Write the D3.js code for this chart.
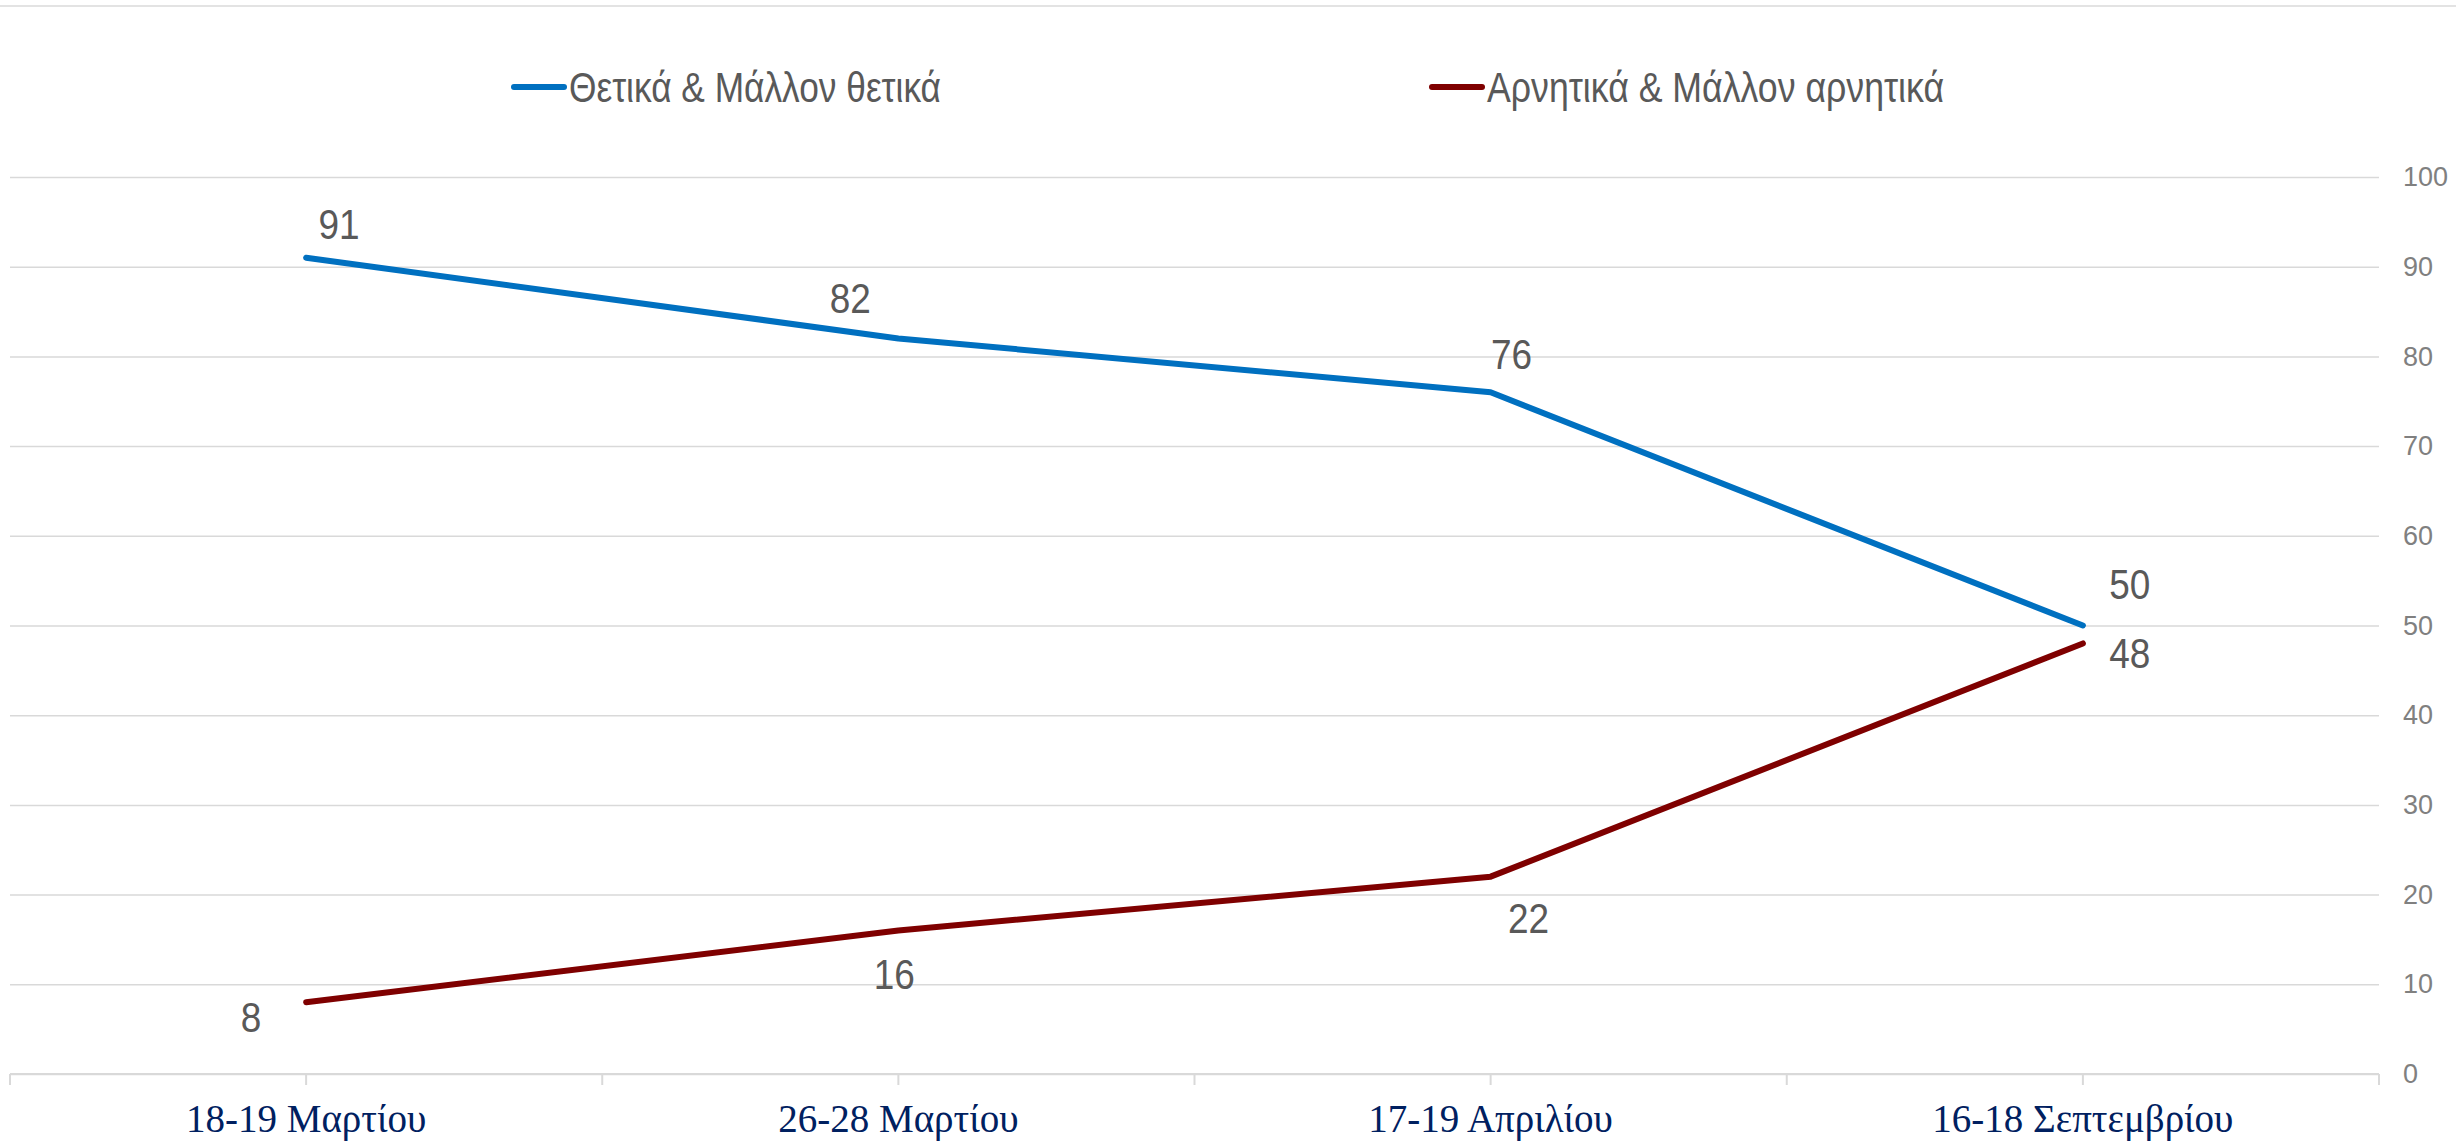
<!DOCTYPE html>
<html>
<head>
<meta charset="utf-8">
<script src="https://cdn.jsdelivr.net/npm/d3@7"></script>
<style>
    body { margin: 0; background: #fff; }
    svg { display: block; }
</style>
</head>
<body>
<div id="chart"></div>
<script>
// chart data
var categories = ["18-19 Μαρτίου", "26-28 Μαρτίου", "17-19 Απριλίου", "16-18 Σεπτεμβρίου"];
var seriesNames = ["Θετικά & Μάλλον θετικά", "Αρνητικά & Μάλλον αρνητικά"];
var positiveValues = [91, 82, 76, 50];
var negativeValues = [8, 16, 22, 48];
var yTicks = [0, 10, 20, 30, 40, 50, 60, 70, 80, 90, 100];

// hand-placed data labels (dx, dy from the point, like in the original)
var positiveLabelOffsets = [[33, -19], [-48, -25], [21, -23], [47, -27]];
var negativeLabelOffsets = [[-55, 30], [-4, 59], [38, 56], [47, 25]];

var width = 2456;
var height = 1141;
// plot box (don't use "top" as a global, it's window.top)
var plotLeft = 10, plotRight = 2379, plotTop = 177, plotBottom = 1074;
var colors = ["#0070C0", "#7F0000"];

var svg = d3.select("#chart")
    .append("svg")
        .attr("width", width)
        .attr("height", height);

// scales
var x = d3.scaleBand()
    .domain(categories)
    .range([plotLeft, plotRight]);
var y = d3.scaleLinear()
    .domain([0, 100])
    .range([plotBottom, plotTop]);

// thin frame line at the very top
svg.append("line")
    .attr("x1", 0).attr("x2", width)
    .attr("y1", 6).attr("y2", 6)
    .attr("stroke", "#e3e3e3")
    .attr("stroke-width", 2);

// gridlines + right axis labels
var yAxis = d3.axisRight(y)
    .tickValues(yTicks)
    .tickSize(-(plotRight - plotLeft))
    .tickPadding(24);
var gy = svg.append("g")
    .attr("transform", "translate(" + plotRight + ",0)")
    .call(yAxis);
gy.select(".domain").remove();
gy.selectAll(".tick line")
    .attr("stroke", "#d9d9d9")
    .attr("stroke-width", 1.5);
gy.selectAll(".tick text")
    .attr("fill", "#808080")
    .style("font-family", "'Liberation Sans', Arial, sans-serif")
    .style("font-size", "27px");

// x axis line with ticks at the band edges and centres
var xAxisLine = svg.append("g");
xAxisLine.append("line")
    .attr("x1", plotLeft).attr("x2", plotRight)
    .attr("y1", plotBottom).attr("y2", plotBottom)
    .attr("stroke", "#d9d9d9")
    .attr("stroke-width", 2);
var tickPos = [];
categories.forEach(function(c) {
    tickPos.push(x(c));
    tickPos.push(x(c) + x.bandwidth() / 2);
});
tickPos.push(plotRight);
xAxisLine.selectAll("line.tick")
    .data(tickPos)
    .enter()
    .append("line")
    .attr("class", "tick")
    .attr("x1", function(d) { return d; })
    .attr("x2", function(d) { return d; })
    .attr("y1", plotBottom)
    .attr("y2", plotBottom + 11)
    .attr("stroke", "#d9d9d9")
    .attr("stroke-width", 2);

// category labels
svg.selectAll("text.cat")
    .data(categories)
    .enter()
    .append("text")
    .attr("class", "cat")
    .attr("x", function(d) { return x(d) + x.bandwidth() / 2; })
    .attr("y", 1132)
    .attr("text-anchor", "middle")
    .attr("fill", "#002060")
    .style("font-family", "'Liberation Serif', 'Times New Roman', serif")
    .style("font-size", "39px")
    .text(function(d) { return d; });

// lines
var series = [positiveValues, negativeValues];
var offsets = [positiveLabelOffsets, negativeLabelOffsets];
var line = d3.line()
    .x(function(d, i) { return x(categories[i]) + x.bandwidth() / 2; })
    .y(function(d) { return y(d); });

series.forEach(function(values, s) {
    svg.append("path")
        .datum(values)
        .attr("d", line)
        .attr("fill", "none")
        .attr("stroke", colors[s])
        .attr("stroke-width", 6)
        .attr("stroke-linecap", "round")
        .attr("stroke-linejoin", "round");

    // value labels (slightly narrow, as in the original)
    svg.selectAll("text.lbl" + s)
        .data(values)
        .enter()
        .append("text")
        .attr("class", "lbl" + s)
        .attr("x", function(d, i) { return x(categories[i]) + x.bandwidth() / 2 + offsets[s][i][0]; })
        .attr("y", function(d, i) { return y(d) + offsets[s][i][1]; })
        .attr("text-anchor", "middle")
        .attr("fill", "#595959")
        .style("font-family", "'Liberation Sans', Arial, sans-serif")
        .style("font-size", "42px")
        .text(function(d) { return d; })
        .attr("textLength", function() { return this.getComputedTextLength() * 0.88; })
        .attr("lengthAdjust", "spacingAndGlyphs");
});

// legend
var legendX = [512, 1430];
var legendTextWidth = [372, 457];
var legend = svg.selectAll("g.legend")
    .data(seriesNames)
    .enter()
    .append("g")
    .attr("class", "legend")
    .attr("transform", function(d, i) { return "translate(" + legendX[i] + ",87)"; });
legend.append("line")
    .attr("x1", 2).attr("x2", 52)
    .attr("y1", 0).attr("y2", 0)
    .attr("stroke", function(d, i) { return colors[i]; })
    .attr("stroke-width", 6)
    .attr("stroke-linecap", "round");
legend.append("text")
    .attr("x", 57)
    .attr("y", 15)
    .attr("fill", "#595959")
    .attr("textLength", function(d, i) { return legendTextWidth[i]; })
    .attr("lengthAdjust", "spacingAndGlyphs")
    .style("font-family", "'Liberation Sans', Arial, sans-serif")
    .style("font-size", "42px")
    .text(function(d) { return d; });
</script>
</body>
</html>
